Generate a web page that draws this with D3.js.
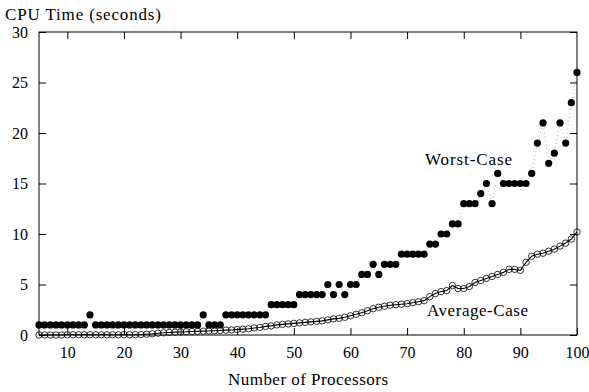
<!DOCTYPE html>
<html>
<head>
<meta charset="utf-8">
<script src="https://cdn.jsdelivr.net/npm/d3@7"></script>
<style>
  body { margin: 0; background: #fff; }
  svg text { font-family: "Liberation Serif", "DejaVu Serif", serif; fill: #000; }
</style>
</head>
<body>
<div id="chart"></div>
<script>
// processors 5..100
const processors = d3.range(5, 101);

const worstCase = [
  1, 1, 1, 1, 1, 1, 1, 1, 1,             // 5-13
  2,                                      // 14
  1, 1, 1, 1, 1, 1, 1, 1, 1, 1,           // 15-24
  1, 1, 1, 1, 1, 1, 1, 1, 1,              // 25-33
  2, 1, 1, 1,                             // 34-37
  2, 2, 2, 2, 2, 2, 2, 2,                 // 38-45
  3, 3, 3, 3, 3,                          // 46-50
  4, 4, 4, 4, 4,                          // 51-55
  5, 4, 5, 4, 5, 5,                       // 56-61
  6, 6, 7, 6, 7, 7, 7,                    // 62-68
  8, 8, 8, 8, 8,                          // 69-73
  9, 9, 10, 10, 11, 11,                   // 74-79
  13, 13, 13, 14, 15, 13, 16,             // 80-86
  15, 15, 15, 15, 15,                     // 87-91
  16, 19, 21, 17, 18, 21, 19, 23, 26      // 92-100
];

const averageCase = [
  0, 0, 0, 0, 0, 0.02, 0.02, 0.02, 0.02, 0.02,            // 5-14
  0.02, 0.02, 0.02, 0.02, 0.02, 0.03, 0.03, 0.03, 0.05, 0.08, // 15-24
  0.12, 0.18, 0.22, 0.25, 0.28, 0.3, 0.32, 0.34, 0.36, 0.38, // 25-34
  0.4, 0.42, 0.45, 0.48, 0.5, 0.55, 0.58, 0.62, 0.7, 0.75, // 35-44
  0.85, 0.9, 1.0, 1.05, 1.1, 1.15, 1.2, 1.25, 1.3, 1.35,   // 45-54
  1.4, 1.5, 1.6, 1.65, 1.75, 1.9, 2.05, 2.2, 2.4, 2.6,     // 55-64
  2.75, 2.85, 2.95, 3.0, 3.05, 3.1, 3.2, 3.3, 3.4, 3.8,    // 65-74
  4.1, 4.3, 4.4, 4.9, 4.6, 4.6, 4.8, 5.2, 5.4, 5.6,        // 75-84
  5.8, 6.0, 6.2, 6.5, 6.5, 6.4, 7.2, 7.8, 8.0, 8.1,        // 85-94
  8.3, 8.5, 8.8, 9.1, 9.5, 10.2                            // 95-100
];

const xTicks = [10, 20, 30, 40, 50, 60, 70, 80, 90, 100];
const yTicks = [0, 5, 10, 15, 20, 25, 30];

const width = 589, height = 392;
const margin = { top: 32, right: 12, bottom: 57, left: 39 };
const serif = '"Liberation Serif", "DejaVu Serif", serif';

const svg = d3.select('#chart').append('svg')
  .attr('width', width)
  .attr('height', height);

const x = d3.scaleLinear()
  .domain([5, 100])
  .range([margin.left, width - margin.right]);

const y = d3.scaleLinear()
  .domain([0, 30])
  .range([height - margin.bottom, margin.top]);

const worst = processors.map((p, i) => [p, worstCase[i]]);
const avg = processors.map((p, i) => [p, averageCase[i]]);

const line = d3.line()
  .x(d => x(d[0]))
  .y(d => y(d[1]));

// axes, ticks pointing inward on all four sides
const tickLen = 7;
function styleAxis(g) {
  g.attr('font-family', serif).attr('font-size', 16);
  g.select('.domain').remove();
  g.selectAll('.tick line').attr('stroke', '#000');
}
svg.append('g')
  .attr('transform', `translate(0,${y(0)})`)
  .call(d3.axisBottom(x).tickValues(xTicks).tickSize(-tickLen).tickPadding(12))
  .call(styleAxis);
svg.append('g')
  .attr('transform', `translate(0,${y(30)})`)
  .call(d3.axisTop(x).tickValues(xTicks.filter(v => v < 100)).tickSize(-tickLen).tickFormat(''))
  .call(styleAxis);
svg.append('g')
  .attr('transform', `translate(${x(5)},0)`)
  .call(d3.axisLeft(y).tickValues(yTicks).tickSize(-tickLen).tickPadding(11))
  .call(styleAxis);
svg.append('g')
  .attr('transform', `translate(${x(100)},0)`)
  .call(d3.axisRight(y).tickValues(yTicks).tickSize(-tickLen).tickFormat(''))
  .call(styleAxis);

// frame
svg.append('rect')
  .attr('x', x(5))
  .attr('y', y(30))
  .attr('width', x(100) - x(5))
  .attr('height', y(0) - y(30))
  .attr('fill', 'none')
  .attr('stroke', '#000')
  .attr('stroke-width', 1);

// worst case: dotted line + filled dots
svg.append('path')
  .datum(worst)
  .attr('d', line)
  .attr('fill', 'none')
  .attr('stroke', '#999')
  .attr('stroke-width', 0.8)
  .attr('stroke-dasharray', '1,3');

svg.append('g').selectAll('circle')
  .data(worst)
  .join('circle')
  .attr('cx', d => x(d[0]))
  .attr('cy', d => y(d[1]))
  .attr('r', 3.6)
  .attr('fill', '#000');

// average case: solid line + open circles
svg.append('path')
  .datum(avg)
  .attr('d', line)
  .attr('fill', 'none')
  .attr('stroke', '#000')
  .attr('stroke-width', 1.1);

svg.append('g').selectAll('circle')
  .data(avg)
  .join('circle')
  .attr('cx', d => x(d[0]))
  .attr('cy', d => y(d[1]))
  .attr('r', 3.2)
  .attr('fill', 'none')
  .attr('stroke', '#000')
  .attr('stroke-width', 0.8);

// labels
svg.append('text')
  .attr('x', 5)
  .attr('y', 20)
  .attr('textLength', 156)
  .style('font-size', '17px')
  .text('CPU Time (seconds)');

svg.append('text')
  .attr('x', 228)
  .attr('y', 385)
  .attr('textLength', 160)
  .style('font-size', '17px')
  .text('Number of Processors');

svg.append('text')
  .attr('x', 425)
  .attr('y', 165)
  .attr('textLength', 87)
  .style('font-size', '17px')
  .text('Worst-Case');

svg.append('text')
  .attr('x', 427)
  .attr('y', 316)
  .attr('textLength', 101)
  .style('font-size', '17px')
  .text('Average-Case');
</script>
</body>
</html>
